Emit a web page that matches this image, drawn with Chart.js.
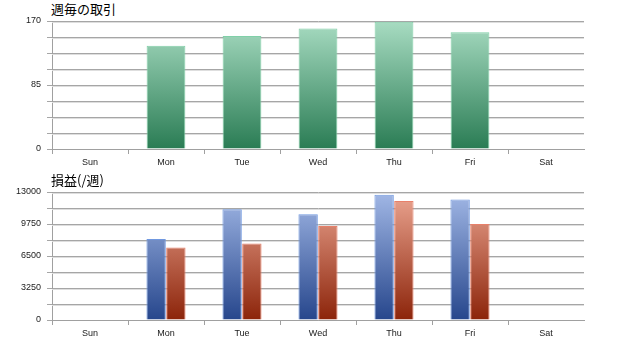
<!DOCTYPE html>
<html>
<head>
<meta charset="utf-8">
<script src="https://cdn.jsdelivr.net/npm/chart.js@4.4.0/dist/chart.umd.min.js"></script>
<style>
  html, body { margin: 0; padding: 0; background: #fff; }
  body { width: 622px; height: 356px; position: relative; overflow: hidden; }
  .box { position: absolute; left: 0; width: 622px; height: 172px; }
  .title { position: absolute; left: 51px; font-family: "Noto Sans CJK JP", "Noto Sans", sans-serif; font-size: 13px; color: #000; line-height: 16px; }
</style>
</head>
<body>
<div class="title" style="top:1px;">週毎の取引</div>
<div class="box" style="top:0px;"><canvas id="c1" width="622" height="172"></canvas></div>
<div class="title" style="top:172px;">損益(/週)</div>
<div class="box" style="top:171px;"><canvas id="c2" width="622" height="172"></canvas></div>
<script>
const categories = ["Sun", "Mon", "Tue", "Wed", "Thu", "Fri", "Sat"];
const trades = [0, 137, 150, 160, 169, 155, 0];
const profitBlue = [0, 8220, 11260, 10750, 12720, 12240, 0];
const profitRed = [0, 7370, 7780, 9550, 12080, 9760, 0];
const tradeTicks = [0, 85, 170];
const profitTicks = [0, 3250, 6500, 9750, 13000];

function grad(top, bottom) {
  return function(ctx) {
    const ch = ctx.chart, a = ch.chartArea;
    if (!a) return bottom;
    const g = ch.ctx.createLinearGradient(0, a.top, 0, a.bottom);
    g.addColorStop(0, top);
    g.addColorStop(1, bottom);
    return g;
  };
}

const shadowGrid = {
  id: 'shadowGrid',
  beforeDatasetsDraw(chart) {
    const y = chart.scales.y, a = chart.chartArea, c = chart.ctx;
    c.save();
    c.strokeStyle = '#dedede';
    c.lineWidth = 1;
    y.ticks.forEach((t, i) => {
      const p = Math.round(y.getPixelForValue(t.value)) + 1.5;
      if (i === 0) return;
      c.beginPath();
      c.moveTo(a.left, p);
      c.lineTo(a.right, p);
      c.stroke();
    });
    c.restore();
  }
};

function makeOpts(max, step, labels) {
  return {
    responsive: false,
    animation: false,
    layout: { padding: { top: 21, right: 38, left: 0, bottom: 0 } },
    plugins: { legend: { display: false }, tooltip: { enabled: false } },
    scales: {
      x: {
        offset: true,
        grid: {
          offset: true, drawOnChartArea: false, drawTicks: true, tickLength: 5,
          color: (ctx) => (ctx.type === 'tick' ? '#a0a0a0' : 'rgba(0,0,0,0)')
        },
        border: { color: '#a0a0a0' },
        ticks: { color: '#1a1a1a', font: { family: 'Liberation Sans', size: 9 }, padding: 3, maxRotation: 0 },
        afterFit(s) { s.height = 23; }
      },
      y: {
        min: 0, max: max,
        grid: { color: '#a6a6a6', tickLength: 5, lineWidth: 1 },
        border: { color: '#a0a0a0' },
        ticks: {
          stepSize: step,
          color: '#1a1a1a',
          font: { family: 'Liberation Sans', size: 9 },
          padding: 6,
          callback(v) {
            const m = labels.find(l => Math.abs(l - v) < 1e-6);
            return m === undefined ? '' : String(m);
          }
        },
        afterFit(s) { s.width = 52; }
      }
    }
  };
}

new Chart(document.getElementById('c1'), {
  type: 'bar',
  data: {
    labels: categories,
    datasets: [{
      data: trades,
      backgroundColor: grad('#a8dcc2', '#2a7c54'),
      borderColor: '#80d0a8',
      borderWidth: 1,
      categoryPercentage: 0.51,
      barPercentage: 1.0
    }]
  },
  options: makeOpts(170, 21.25, tradeTicks),
  plugins: [shadowGrid]
});

new Chart(document.getElementById('c2'), {
  type: 'bar',
  data: {
    labels: categories,
    datasets: [{
      data: profitBlue,
      backgroundColor: grad('#a2b8e6', '#26468c'),
      borderColor: '#7098e0',
      borderWidth: 1,
      categoryPercentage: 0.52,
      barPercentage: 0.98
    }, {
      data: profitRed,
      backgroundColor: grad('#eca692', '#8c240a'),
      borderColor: '#e8806a',
      borderWidth: 1,
      categoryPercentage: 0.52,
      barPercentage: 0.98
    }]
  },
  options: makeOpts(13000, 1625, profitTicks),
  plugins: [shadowGrid]
});
</script>
</body>
</html>
